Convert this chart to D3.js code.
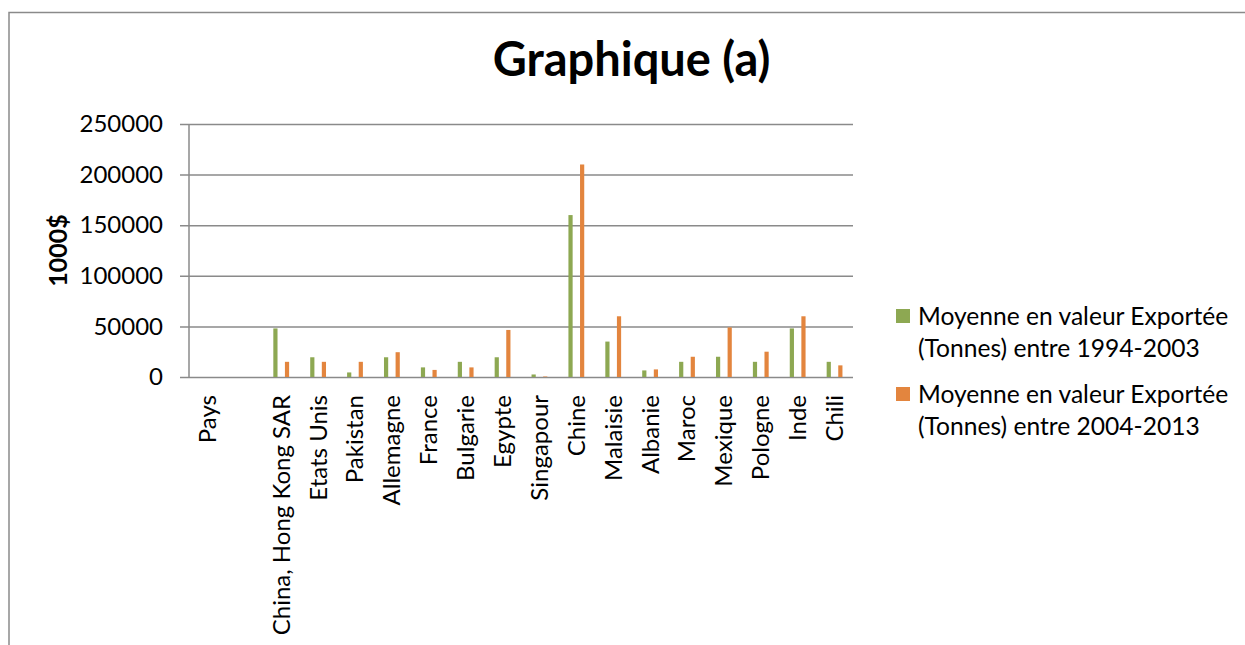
<!DOCTYPE html>
<html>
<head>
<meta charset="utf-8">
<script src="https://cdn.jsdelivr.net/npm/d3@7"></script>
<style>
  html, body { margin: 0; padding: 0; background: #fff; }
  svg { display: block; font-family: Lato, "Open Sans", sans-serif; }
</style>
</head>
<body>
<svg id="chart" width="1245" height="645"></svg>
<script>
// Categories (the second slot is an empty column in the source table)
const categories = ["Pays", "", "China, Hong Kong SAR", "Etats Unis", "Pakistan", "Allemagne",
  "France", "Bulgarie", "Egypte", "Singapour", "Chine", "Malaisie", "Albanie", "Maroc",
  "Mexique", "Pologne", "Inde", "Chili"];

// Average exported value, 1994-2003
const export1994_2003 = [0, 0, 48000, 19500, 4500, 19500, 9500, 15000, 19500, 2500,
  160000, 35000, 6500, 15000, 20000, 15000, 48000, 15000];

// Average exported value, 2004-2013
const export2004_2013 = [0, 0, 15000, 15000, 15000, 24500, 7000, 9500, 46500, 500,
  210000, 60000, 7500, 20000, 49000, 25000, 60000, 11500];

const seriesNames = [
  ["Moyenne en valeur Exportée", "(Tonnes) entre 1994-2003"],
  ["Moyenne en valeur Exportée", "(Tonnes) entre 2004-2013"]
];
const yTicks = [0, 50000, 100000, 150000, 200000, 250000];
const colors = ["#8DA852", "#E3853E"];

const svg = d3.select("#chart");
const grid = "#8a8a8a";

// Outer chart frame
svg.append("rect")
  .attr("x", 9).attr("y", 12.5).attr("width", 1300).attr("height", 700)
  .attr("fill", "none").attr("stroke", grid).attr("stroke-width", 1.5);

const plot = { left: 189, right: 853, top: 124, bottom: 377 };

const x = d3.scaleBand()
  .domain(d3.range(categories.length))
  .range([plot.left, plot.right])
  .paddingInner(0).paddingOuter(0);

const y = d3.scaleLinear().domain([0, 250000]).range([plot.bottom, plot.top]);

// Title
svg.append("text")
  .attr("x", 631.5).attr("y", 76)
  .attr("text-anchor", "middle")
  .attr("font-weight", "bold").attr("font-size", 47)
  .attr("fill", "#000")
  .text("Graphique (a)");

// Gridlines + y axis
const yAxis = d3.axisLeft(y)
  .tickValues(yTicks)
  .tickSize(-(plot.right - plot.left))
  .tickFormat(d3.format("d"))
  .tickPadding(26);

const gy = svg.append("g")
  .attr("transform", `translate(${plot.left},0)`)
  .call(yAxis);
gy.select(".domain").remove();
gy.selectAll(".tick line")
  .attr("x1", -9)
  .attr("stroke", grid).attr("stroke-width", 1.5);
gy.selectAll(".tick text")
  .attr("font-size", 24).attr("font-family", "Lato, 'Open Sans', sans-serif")
  .attr("fill", "#000");

// Vertical axis line
svg.append("line")
  .attr("x1", plot.left).attr("x2", plot.left)
  .attr("y1", plot.top).attr("y2", plot.bottom)
  .attr("stroke", grid).attr("stroke-width", 1.5);

// Y axis title
svg.append("text")
  .attr("transform", `translate(67,${(plot.top + plot.bottom) / 2}) rotate(-90)`)
  .attr("text-anchor", "middle")
  .attr("font-weight", "bold").attr("font-size", 25)
  .text("1000$");

// Bars
const barW = 4.2;
const offsets = [-5.8, 5.8];
[export1994_2003, export2004_2013].forEach((vals, s) => {
  svg.append("g").selectAll("rect")
    .data(vals)
    .join("rect")
    .attr("x", (d, i) => x(i) + x.bandwidth() / 2 + offsets[s] - barW / 2)
    .attr("y", d => y(d))
    .attr("width", barW)
    .attr("height", d => y(0) - y(d))
    .attr("fill", colors[s]);
});

// Category labels
const xAxis = d3.axisBottom(x).tickSize(0).tickFormat(i => categories[i]);
const gx = svg.append("g")
  .attr("transform", `translate(0,${plot.bottom})`)
  .call(xAxis);
gx.select(".domain").remove();
gx.selectAll(".tick text")
  .attr("transform", "rotate(-90)")
  .attr("text-anchor", "end")
  .attr("x", -18).attr("y", 0).attr("dy", "0.35em")
  .attr("font-size", 24).attr("font-family", "Lato, 'Open Sans', sans-serif")
  .attr("fill", "#000");

// Legend
const legend = svg.append("g");
seriesNames.forEach((lines, s) => {
  const top = 309 + s * 78;
  legend.append("rect")
    .attr("x", 896).attr("y", top).attr("width", 14).attr("height", 14)
    .attr("fill", colors[s]);
  lines.forEach((t, j) => {
    legend.append("text")
      .attr("x", 918).attr("y", top + 16 + j * 32)
      .attr("font-size", 24.6)
      .attr("fill", "#000")
      .text(t);
  });
});
</script>
</body>
</html>
